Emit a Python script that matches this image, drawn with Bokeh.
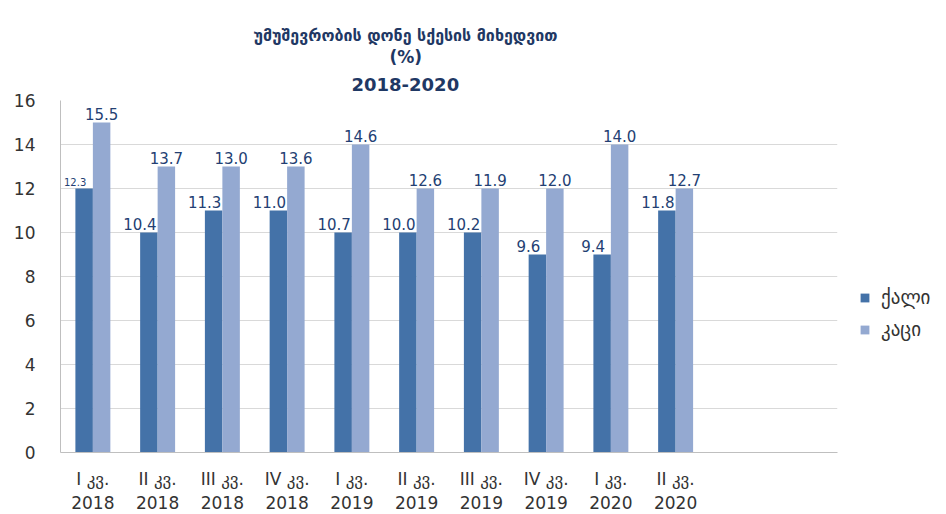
from bokeh.plotting import figure
from bokeh.models import ColumnDataSource, FixedTicker, Title, Legend, LegendItem, Range1d
from bokeh.core.properties import value
from bokeh.embed import file_html
from bokeh.resources import INLINE

quarters = ["I კვ.\n2018", "II კვ.\n2018", "III კვ.\n2018", "IV კვ.\n2018", "I კვ.\n2019",
            "II კვ.\n2019", "III კვ.\n2019", "IV კვ.\n2019", "I კვ.\n2020", "II კვ.\n2020"]
women_bars = [12, 10, 11, 11, 10, 10, 10, 9, 9, 11]
men_bars = [15, 13, 13, 13, 14, 12, 12, 12, 14, 12]
women_labels = ["12.3", "10.4", "11.3", "11.0", "10.7", "10.0", "10.2", "9.6", "9.4", "11.8"]
men_labels = ["15.5", "13.7", "13.0", "13.6", "14.6", "12.6", "11.9", "12.0", "14.0", "12.7"]
series_names = ["ქალი", "კაცი"]
y_ticks = [0, 2, 4, 6, 8, 10, 12, 14, 16]
title_lines = ["უმუშევრობის დონე სქესის მიხედვით", "(%)", "2018-2020"]

WOMEN_COLOR = "#4472A8"
MEN_COLOR = "#94A9D1"
LABEL_COLOR = "#243F73"
TITLE_COLOR = "#1F3864"
FONT = "DejaVu Sans"
# style: the first women label is printed smaller in the original
women_label_font = ["10px"] + ["15px"] * 9

idx = list(range(len(quarters)))
bw = 0.27
src_w = ColumnDataSource(dict(x=[i - bw / 2 for i in idx], top=women_bars, lab=women_labels,
                              fs=women_label_font))
src_m = ColumnDataSource(dict(x=[i + bw / 2 for i in idx], top=men_bars, lab=men_labels))

FW, FH = 777, 352
p = figure(frame_width=FW, frame_height=FH, output_backend="svg", toolbar_location=None,
           x_range=Range1d(-0.5, 11.5), y_range=Range1d(0, 16))
p.min_border_left = 60
p.min_border_right = 109
p.min_border_top = 100
p.min_border_bottom = 62
p.outline_line_color = None
p.background_fill_color = "white"

rw = p.vbar(x="x", top="top", width=bw, source=src_w, fill_color=WOMEN_COLOR, line_color=None)
rm = p.vbar(x="x", top="top", width=bw, source=src_m, fill_color=MEN_COLOR, line_color=None)

p.text(x="x", y="top", text="lab", source=src_w, text_align="center", text_baseline="bottom",
       y_offset=-3, x_offset=-9, text_color=LABEL_COLOR, text_font_size="fs", text_font=value(FONT))
p.text(x="x", y="top", text="lab", source=src_m, text_align="center", text_baseline="bottom",
       y_offset=-3, text_color=LABEL_COLOR, text_font_size="15px", text_font=value(FONT))

p.xgrid.grid_line_color = None
p.ygrid.grid_line_color = "#D9D9D9"
p.ygrid.ticker = FixedTicker(ticks=y_ticks)

p.yaxis.ticker = FixedTicker(ticks=y_ticks)
p.yaxis.axis_line_color = "#BFBFBF"
p.yaxis.major_tick_line_color = None
p.yaxis.minor_tick_line_color = None
p.yaxis.major_label_text_font = FONT
p.yaxis.major_label_text_font_size = "17px"
p.yaxis.major_label_text_color = "#333333"
p.yaxis.major_label_standoff = 19

p.xaxis.ticker = FixedTicker(ticks=idx)
p.xaxis.major_label_overrides = {i: q for i, q in zip(idx, quarters)}
p.xaxis.axis_line_color = "#BFBFBF"
p.xaxis.major_tick_line_color = None
p.xaxis.minor_tick_line_color = None
p.xaxis.major_label_text_font = FONT
p.xaxis.major_label_text_font_size = "17px"
p.xaxis.major_label_text_color = "#333333"
p.xaxis.major_label_standoff = 10

legend = Legend(items=[LegendItem(label=series_names[0], renderers=[rw]),
                       LegendItem(label=series_names[1], renderers=[rm])],
                location=(22, 112), border_line_color=None, background_fill_alpha=0,
                glyph_width=11, glyph_height=11, label_standoff=11, label_text_font=FONT,
                label_text_font_size="19px", label_text_color="#333333", spacing=10)
p.add_layout(legend, "right")

for text, size, off, so, lh in [(title_lines[2], "18px", 291, 19, 0.8),
                                (title_lines[1], "17px", 329, 0, 0.8),
                                (title_lines[0], "16px", 193, 0, 1.0)]:
    p.add_layout(Title(text=text, align="left", offset=off, standoff=so, text_font=FONT,
                       text_font_size=size, text_font_style="bold", text_color=TITLE_COLOR,
                       text_line_height=lh), "above")

open("out.html", "w").write(file_html(p, INLINE))
